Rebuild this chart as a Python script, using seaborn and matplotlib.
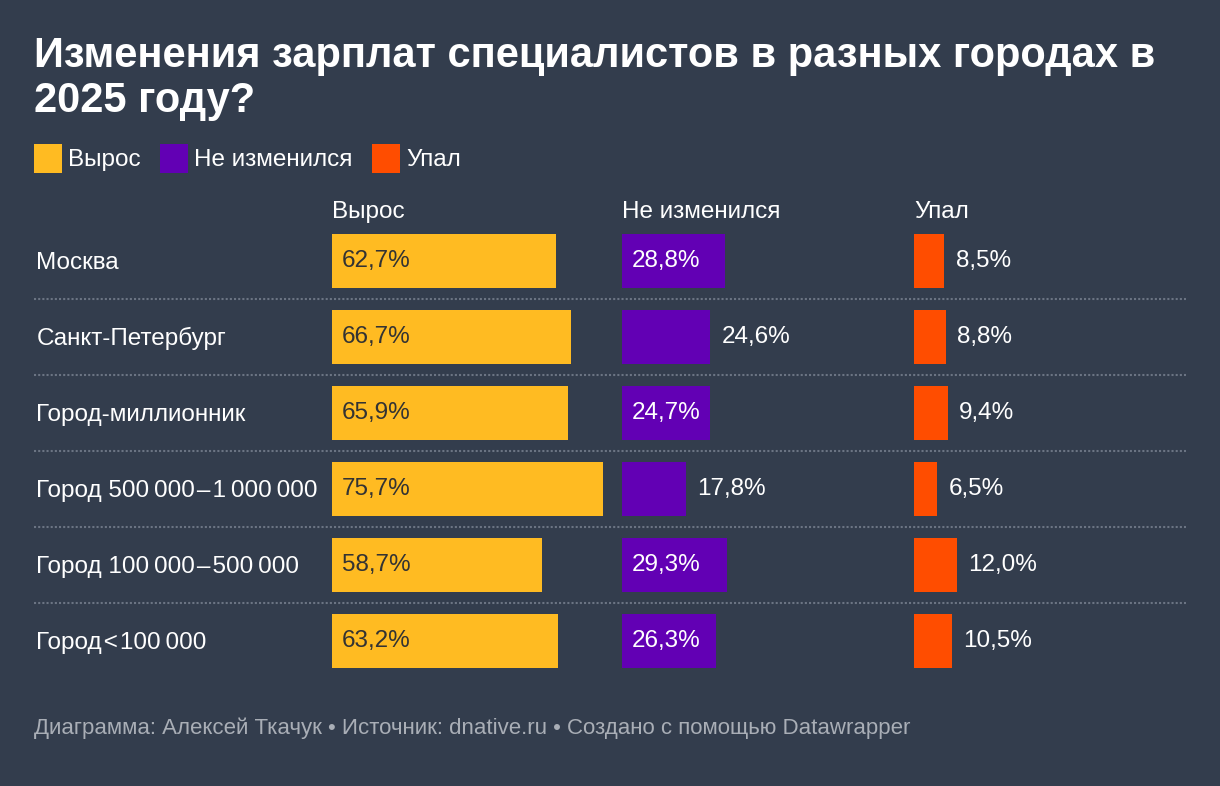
import matplotlib
matplotlib.use("Agg")
import matplotlib.pyplot as plt
from matplotlib.patches import Patch
import pandas as pd
import seaborn as sns

cities = [
    "Москва",
    "Санкт-Петербург",
    "Город-миллионник",
    "Город 500\u2009000\u200a–\u200a1\u2009000\u2009000",
    "Город 100\u2009000\u200a–\u200a500\u2009000",
    "Город\u200a<\u200a100\u2009000",
]
grew = [62.7, 66.7, 65.9, 75.7, 58.7, 63.2]
same = [28.8, 24.6, 24.7, 17.8, 29.3, 26.3]
fell = [8.5, 8.8, 9.4, 6.5, 12.0, 10.5]
series_names = ["Вырос", "Не изменился", "Упал"]

title = "Изменения зарплат специалистов в разных городах в\n2025 году?"
footer = "Диаграмма: Алексей Ткачук • Источник: dnative.ru • Создано с помощью Datawrapper"

BG = "#333d4d"
colors = ["#ffbb22", "#6200b4", "#ff4d00"]
inside_text = ["#333333", "white", "white"]
inside_min = 24.65  # labels go inside bars from this value (datawrapper fit)
FS = 17.5

sns.set_theme(style="white")
plt.rcParams["font.family"] = ["Liberation Sans", "DejaVu Sans"]

W, H = 1220, 786
fig = plt.figure(figsize=(W / 100, H / 100), dpi=100, facecolor=BG)


def px_axes(left, top, width, height):
    ax = fig.add_axes([left / W, 1 - (top + height) / H, width / W, height / H])
    ax.set_facecolor("none")
    ax.axis("off")
    return ax


row_top, row_h = 223, 76
n = len(cities)
px_per_unit = 3.58
col_w = 290

# base layer: separators and city names
base = px_axes(34, row_top, 1152, row_h * n)
base.set_xlim(0, 1)
base.set_ylim(n - 0.5, -0.5)
for k in range(n - 1):
    base.axhline(k + 0.5, color="#6b7483", lw=1.5, ls=(0, (1, 1)))
for k, city in enumerate(cities):
    base.text(0.002, k + 0.02, city, color="white", fontsize=FS, va="center", ha="left")

df = pd.DataFrame({"city": cities, series_names[0]: grew,
                   series_names[1]: same, series_names[2]: fell})

col_left = [332, 622, 914]
for j, name in enumerate(series_names):
    ax = px_axes(col_left[j], row_top, col_w, row_h * n)
    sns.barplot(data=df, x=name, y="city", orient="h", color=colors[j],
                saturation=1, width=54 / 76, linewidth=0, ax=ax)
    ax.set_xlim(0, col_w / px_per_unit)
    ax.set_ylim(n - 0.5, -0.5)
    ax.axis("off")
    ax.text(0, 1 + 11 / (row_h * n), name, transform=ax.transAxes,
            color="white", fontsize=FS, va="center", ha="left")
    for k, v in enumerate(df[name]):
        label = f"{v:.1f}".replace(".", ",") + "%"
        if j < 2 and v >= inside_min:
            ax.annotate(label, xy=(0, k), xytext=(7.2, 0), textcoords="offset points",
                        va="center", ha="left", color=inside_text[j], fontsize=FS)
        else:
            ax.annotate(label, xy=(v, k), xytext=(8.2, 0), textcoords="offset points",
                        va="center", ha="left", color="white", fontsize=FS)

fig.text(34 / W, 1 - 36 / H, title, color="white", fontsize=30, weight="bold",
         va="top", ha="left", linespacing=1.15)

handles = [Patch(facecolor=c, edgecolor="none") for c in colors]
fig.legend(handles, series_names, loc="upper left", bbox_to_anchor=(34 / W, 1 - 144 / H),
           ncol=3, frameon=False, fontsize=FS, labelcolor="white",
           borderpad=0, borderaxespad=0,
           handlelength=1.15, handleheight=1.45, handletextpad=0.25, columnspacing=0.8)

fig.text(34 / W, 1 - 728 / H, footer, color="#a9aeb6", fontsize=16,
         va="center", ha="left")

fig.savefig("out.png", dpi=100, facecolor=BG)
